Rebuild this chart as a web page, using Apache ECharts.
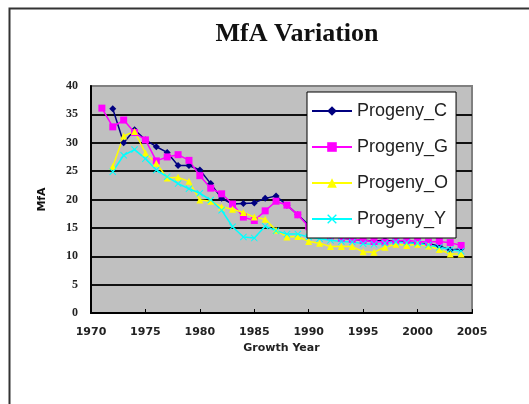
<!DOCTYPE html>
<html>
<head>
<meta charset="utf-8">
<script src="https://cdn.jsdelivr.net/npm/echarts@6/dist/echarts.min.js"></script>
<style>
  html, body { margin: 0; padding: 0; background: #fff; }
  #main { width: 529px; height: 404px; }
</style>
</head>
<body>
<div id="main"></div>
<script type="text/javascript">
// growth years 1971..2004
var years = [1971,1972,1973,1974,1975,1976,1977,1978,1979,1980,1981,1982,1983,1984,1985,1986,1987,
             1988,1989,1990,1991,1992,1993,1994,1995,1996,1997,1998,1999,2000,2001,2002,2003,2004];
var progenyC = [null,36,30,32.3,30.5,29.3,28.3,26,26,25.2,22.8,20.2,19.2,19.3,19.4,20.2,20.6,
                19,17.3,15.5,14.5,13.8,13.2,13,12.8,12.7,12.8,12.6,12.5,12.3,12.2,11.8,11.1,11.3];
var progenyG = [36.1,32.8,34,31.8,30.5,26.8,27.5,27.9,26.9,24.2,22,21,19.2,16.9,16.3,18,19.7,
                19,17.3,15.2,14.3,13.6,13.2,13,12.8,12.6,12.5,12.7,12.8,12.6,12.5,12.6,12.4,11.9];
var progenyO = [null,25.8,31.2,32,28.2,26.4,23.8,23.9,23.2,19.9,19.7,18.7,18.3,17.7,16.9,16.5,14.6,
                13.4,13.5,12.6,12.3,11.7,11.7,11.7,10.8,10.7,11.6,12.1,11.9,12.1,11.8,11.2,10.4,10.4];
var progenyY = [null,24.9,27.8,28.8,27.2,25.2,24,22.8,21.9,21.1,19.9,18.1,15.2,13.4,13.2,15.3,14.5,
                13.9,13.9,13.4,13.1,12.8,12.6,12.5,12.2,12.1,12.3,12.5,12.4,12.3,12,11.6,11.2,10.9];
var seriesNames = ['Progeny_C','Progeny_G','Progeny_O','Progeny_Y'];

function pairs(vals){
  var out = [];
  for(var i=0;i<years.length;i++){
    if(vals[i] !== null) out.push([years[i], vals[i]]);
  }
  return out;
}

var xMark = 'path://M0,1L1,0L5,4L9,0L10,1L6,5L10,9L9,10L5,6L1,10L0,9L4,5Z';
var styles = [
  {color:'#000080', symbol:'diamond', size:7},
  {color:'#ff00ff', symbol:'rect', size:7},
  {color:'#ffff00', symbol:'triangle', size:7},
  {color:'#00ffff', symbol:xMark, size:7}
];
var allData = [progenyC, progenyG, progenyO, progenyY];

var series = [];
for(var k=0;k<seriesNames.length;k++){
  series.push({
    name: seriesNames[k],
    type: 'line',
    data: pairs(allData[k]),
    symbol: styles[k].symbol,
    symbolSize: styles[k].size,
    showAllSymbol: true,
    lineStyle: {color: styles[k].color, width: 1.5},
    itemStyle: {color: styles[k].color},
    animation: false
  });
}

var option = {
  animation: false,
  title: {
    text: 'MfA Variation',
    left: 292, top: 16, textAlign: 'center',
    textStyle: {fontFamily: 'Liberation Serif', fontSize: 26, fontWeight: 'bold', color: '#111'}
  },
  graphic: [{
    type: 'rect', left: 7, top: 6, z: -1,
    shape: {width: 540, height: 420},
    style: {fill: 'none', stroke: '#333', lineWidth: 2}
  }],
  legend: {
    orient: 'vertical',
    left: 307, top: 92,
    padding: [10, 8, 10, 4],
    itemWidth: 40, itemHeight: 12, itemGap: 18,
    backgroundColor: '#fff',
    borderColor: '#000', borderWidth: 1,
    textStyle: {fontFamily: 'Liberation Sans', fontSize: 18, color: '#222'},
    data: seriesNames
  },
  grid: {
    left: 91, right: 57, top: 86, bottom: 91,
    show: true, backgroundColor: '#c0c0c0', borderColor: '#808080', borderWidth: 2
  },
  xAxis: {
    type: 'value', min: 1970, max: 2005, interval: 5,
    name: 'Growth Year', nameLocation: 'middle', nameGap: 27,
    nameTextStyle: {fontFamily: 'DejaVu Sans', fontSize: 11, fontWeight: 'bold', color: '#222'},
    axisLine: {show: true, lineStyle: {color: '#000', width: 2}},
    axisTick: {show: true, inside: true, length: 4, lineStyle: {color: '#000'}},
    axisLabel: {
      fontFamily: 'DejaVu Sans', fontSize: 11, fontWeight: 'bold', color: '#222', margin: 14,
      formatter: function(v){ return String(v); }
    },
    splitLine: {show: false}
  },
  yAxis: {
    type: 'value', min: 0, max: 40, interval: 5,
    name: 'MfA', nameLocation: 'middle', nameGap: 43, nameRotate: 90,
    nameTextStyle: {fontFamily: 'DejaVu Sans', fontSize: 11, fontWeight: 'bold', color: '#111'},
    axisLine: {show: true, lineStyle: {color: '#000', width: 2}},
    axisTick: {show: false},
    axisLabel: {fontFamily: 'Liberation Serif', fontSize: 12, fontWeight: 'bold', color: '#222', margin: 13},
    splitLine: {show: true, showMaxLine: false, lineStyle: {color: '#111', width: 2}}
  },
  series: series
};

var myChart = echarts.init(document.getElementById('main'));
myChart.setOption(option);
</script>
</body>
</html>
